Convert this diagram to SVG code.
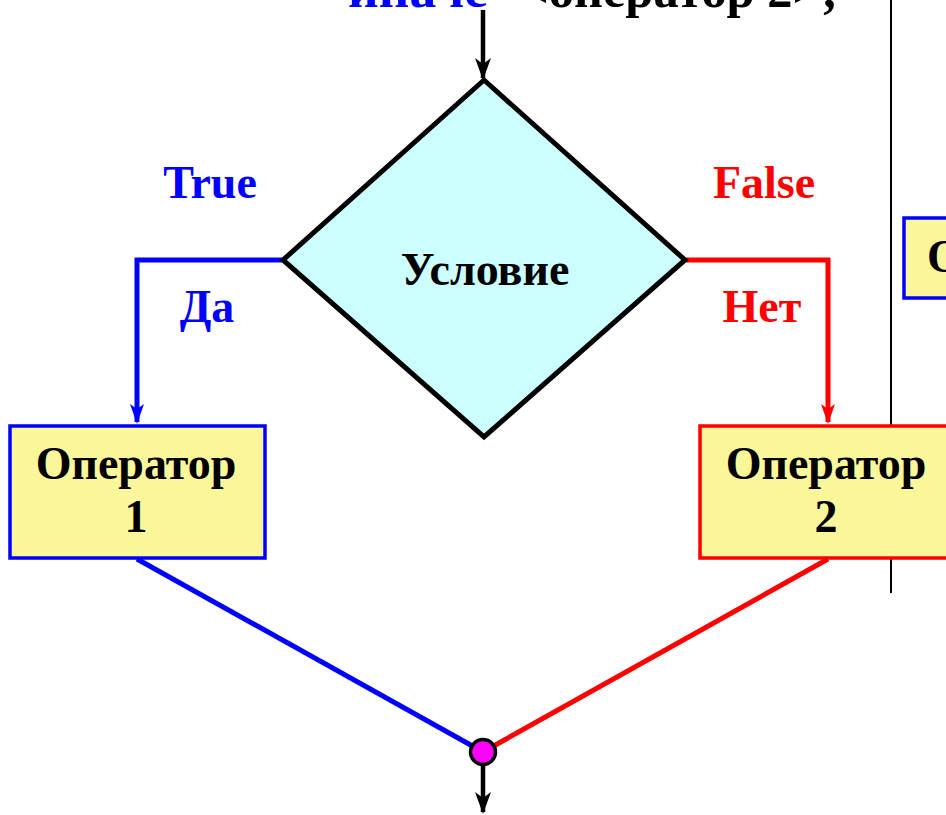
<svg xmlns="http://www.w3.org/2000/svg" width="946" height="815" viewBox="0 0 946 815">
  <style>
    .t { font-family: "Liberation Serif", "Times New Roman", serif; font-weight: bold; }
    .blk { fill: #000; }
    .blue { fill: #0000FF; }
    .red { fill: #FF0000; }
    .box { fill: #FAF79A; stroke-width: 3.5; }
  </style>
  <defs>
    <marker id="ahBlue" markerWidth="20" markerHeight="20" refX="18" refY="10" orient="auto" markerUnits="userSpaceOnUse" viewBox="0 0 20 20">
      <path d="M0,3 L20,10 L0,17 L5,10 Z" fill="#0000FF"/>
    </marker>
    <marker id="ahRed" markerWidth="20" markerHeight="20" refX="18" refY="10" orient="auto" markerUnits="userSpaceOnUse" viewBox="0 0 20 20">
      <path d="M0,3 L20,10 L0,17 L5,10 Z" fill="#FF0000"/>
    </marker>
    <marker id="ahK" markerWidth="22" markerHeight="22" refX="20" refY="11" orient="auto" markerUnits="userSpaceOnUse" viewBox="0 0 22 22">
      <path d="M0,3 L22,11 L0,19 L6,11 Z" fill="#000"/>
    </marker>
  </defs>

  <!-- heading line, partly outside the view -->
  <text class="t blue" x="348" y="7" font-size="50" textLength="140" lengthAdjust="spacingAndGlyphs">иначе</text>
  <text class="t blk" x="520" y="7" font-size="50" textLength="318" lengthAdjust="spacingAndGlyphs">&lt;оператор 2&gt;;</text>

  <!-- divider to the next column -->
  <line x1="891" y1="0" x2="891" y2="593" stroke="#000" stroke-width="2"/>

  <!-- neighbouring box, cut by the edge -->
  <g id="next-box">
    <rect x="904" y="218" width="80" height="80" fill="#FAF79A" stroke="#0000FF" stroke-width="3.5"/>
    <text class="t blk" x="927" y="272" font-size="46">О</text>
  </g>

  <g id="connectors">
    <line x1="483" y1="10" x2="483" y2="78" stroke="#000" stroke-width="4.5" marker-end="url(#ahK)"/>
    <polyline points="283,260 137,260 137,422" fill="none" stroke="#0000FF" stroke-width="5" marker-end="url(#ahBlue)"/>
    <polyline points="685,260 828,260 828,422" fill="none" stroke="#FF0000" stroke-width="5" marker-end="url(#ahRed)"/>
    <line x1="137" y1="559" x2="476" y2="748" stroke="#0000FF" stroke-width="5"/>
    <line x1="828" y1="559" x2="490" y2="748" stroke="#FF0000" stroke-width="5"/>
    <line x1="483" y1="764" x2="483" y2="812" stroke="#000" stroke-width="4.5" marker-end="url(#ahK)"/>
  </g>

  <g id="condition">
    <polygon points="484,80 685,260 484,437 283,260" fill="#CCFFFF" stroke="#000" stroke-width="5" stroke-linejoin="miter"/>
    <text class="t blk" x="485" y="285" font-size="46" text-anchor="middle">Условие</text>
  </g>

  <g id="branch-labels">
    <text class="t blue" x="210" y="198" font-size="46" text-anchor="middle">True</text>
    <text class="t blue" x="207" y="322" font-size="46" text-anchor="middle">Да</text>
    <text class="t red" x="764" y="198" font-size="46" text-anchor="middle">False</text>
    <text class="t red" x="762" y="322" font-size="46" text-anchor="middle">Нет</text>
  </g>

  <g id="operator1">
    <rect class="box" x="10" y="426" width="255" height="132" stroke="#0000FF"/>
    <text class="t blk" x="136" y="479" font-size="46" text-anchor="middle">Оператор</text>
    <text class="t blk" x="136" y="532" font-size="46" text-anchor="middle">1</text>
  </g>

  <g id="operator2">
    <rect class="box" x="700" y="426" width="260" height="132" stroke="#FF0000"/>
    <text class="t blk" x="826" y="479" font-size="46" text-anchor="middle">Оператор</text>
    <text class="t blk" x="826" y="532" font-size="46" text-anchor="middle">2</text>
  </g>

  <g id="join">
    <circle cx="483" cy="752" r="12.5" fill="#FF00FF" stroke="#000" stroke-width="3.5"/>
  </g>
</svg>
